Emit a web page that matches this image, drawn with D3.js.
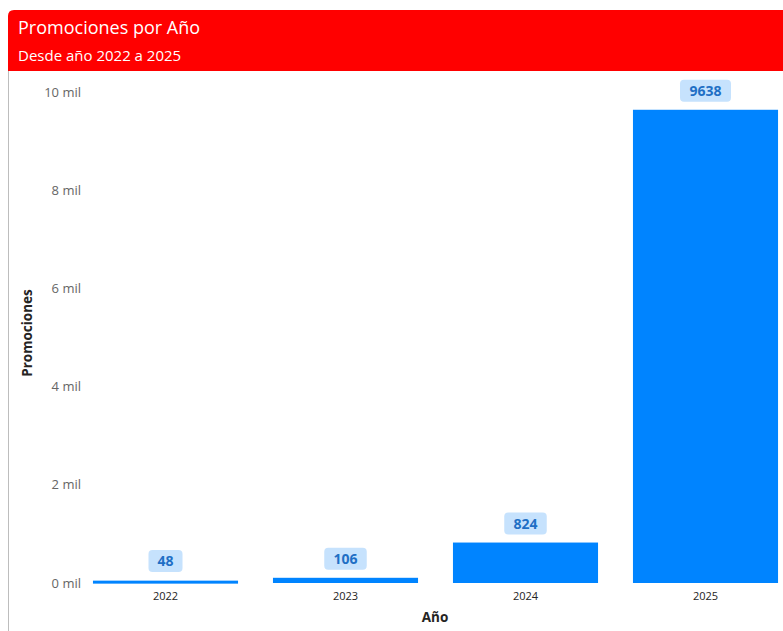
<!DOCTYPE html>
<html><head><meta charset="utf-8">
<script src="https://cdn.jsdelivr.net/npm/d3@7"></script>
<style>body{margin:0;background:#fff;font-family:"Segoe UI","Open Sans",sans-serif;}</style>
</head><body><svg id="c" width="783" height="631"></svg>
<script>
const years = ["2022","2023","2024","2025"];
const promociones = [48,106,824,9638];
const yTicks = [0,2000,4000,6000,8000,10000];
const title = "Promociones por Año";
const subtitle = "Desde año 2022 a 2025";

const svg = d3.select("#c");
const font = "'Segoe UI','Open Sans',sans-serif";
// frame
svg.append("line").attr("x1",8.5).attr("x2",8.5).attr("y1",20).attr("y2",631).attr("stroke","#bdbdbd").attr("stroke-width",1);
svg.append("path").attr("d","M8,71 L8,16 Q8,10 14,10 L783,10 L783,71 Z").attr("fill","#ff0000");
svg.append("text").attr("x",18).attr("y",34).attr("fill","#fff").attr("font-size",18).attr("font-family",font).text(title);
svg.append("text").attr("x",18).attr("y",61).attr("fill","#fff").attr("font-size",15).attr("font-family",font).text(subtitle);

const y = d3.scaleLinear().domain([0,10000]).range([583,92]);
const x = d3.scaleBand().domain(years).range([75.5,795.5]).paddingInner(0.194).paddingOuter(0.097);

const yAxis = d3.axisLeft(y).tickValues(yTicks).tickSize(0).tickPadding(0).tickFormat(d=>(d/1000)+" mil");
const ga = svg.append("g").attr("transform","translate(81,0)").call(yAxis);
ga.select(".domain").remove();
ga.selectAll("text").attr("fill","#666").attr("font-size",13).attr("font-family",font);

const xAxis = d3.axisBottom(x).tickSize(0).tickPadding(0);
const gx = svg.append("g").attr("transform","translate(0,592)").call(xAxis);
gx.select(".domain").remove();
gx.selectAll("text").attr("fill","#252423").attr("font-size",11).attr("font-family",font).attr("dy","0.71em");

svg.append("text").attr("x",435).attr("y",622).attr("text-anchor","middle").attr("font-size",13.5).attr("font-weight","bold").attr("fill","#252423").attr("font-family",font).text("Año");
svg.append("text").attr("transform","translate(32,333) rotate(-90)").attr("text-anchor","middle").attr("font-size",13.5).attr("font-weight","bold").attr("fill","#252423").attr("font-family",font).text("Promociones");

svg.selectAll("rect.bar").data(promociones).join("rect").attr("class","bar")
  .attr("x",(d,i)=>x(years[i])).attr("width",x.bandwidth())
  .attr("y",d=>y(d)).attr("height",d=>Math.max(583-y(d),3))
  .attr("fill","#0084ff");

const lab = svg.selectAll("g.lab").data(promociones).join("g").attr("class","lab")
  .attr("transform",(d,i)=>`translate(${x(years[i])+x.bandwidth()/2},${Math.min(y(d),580)-8})`);
lab.each(function(d){
  const g=d3.select(this);
  const s=String(d);
  const w=s.length*8.5+17;
  g.append("rect").attr("x",-w/2).attr("y",-22).attr("width",w).attr("height",22).attr("rx",4).attr("fill","#c6e2fd");
  g.append("text").attr("y",-6).attr("text-anchor","middle").attr("font-size",14).attr("font-weight","bold").attr("fill","#1f6fc5").attr("font-family",font).text(s);
});
</script></body></html>
